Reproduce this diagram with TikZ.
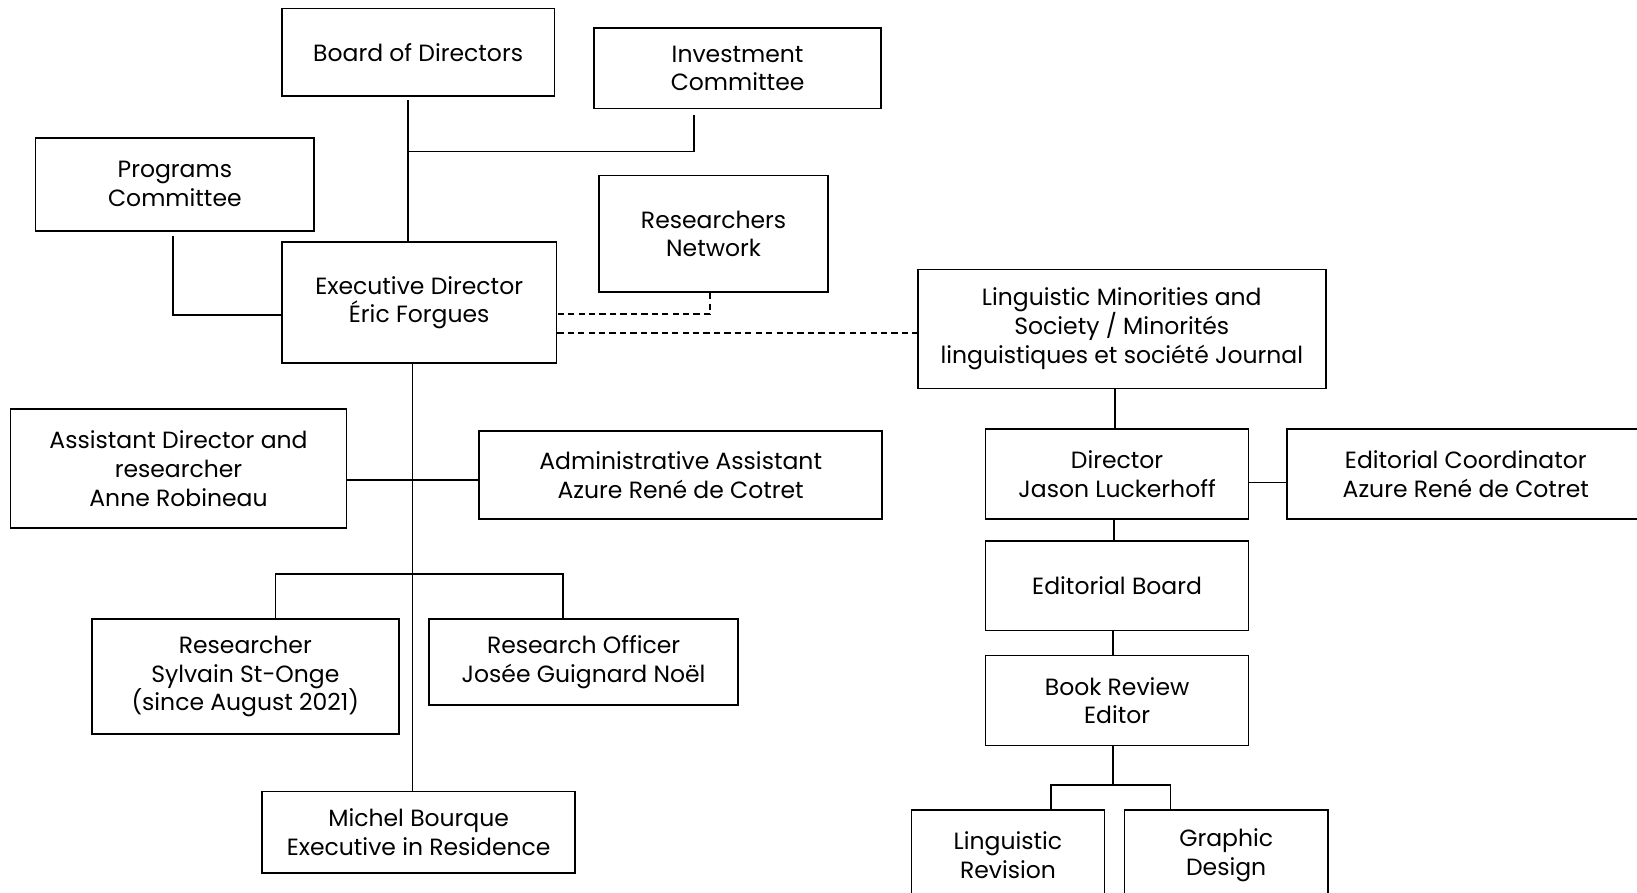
\documentclass[tikz,border=0pt]{standalone}
\usepackage{fontspec}
\setmainfont{Poppins}
\begin{document}
\begin{tikzpicture}[x=1pt,y=-1pt,
  box/.style={draw, line width=1.6pt, align=center, inner sep=0pt, font=\fontsize{22.5}{27.5}\selectfont},
  conn/.style={line width=1.6pt},
  dconn/.style={line width=1.6pt, dash pattern=on 6pt off 4pt}]
\useasboundingbox (0,0) rectangle (1568,855);
\clip (0,0) rectangle (1568,855);
\node[box, minimum width=261pt, minimum height=84pt] (bod) at (400.5,50) {Board of Directors};
\node[box, minimum width=275pt, minimum height=77pt] (inv) at (706.5,65.5) {Investment\\Committee};
\node[box, minimum width=267pt, minimum height=89pt] (prog) at (167.5,176.5) {Programs\\Committee};
\node[box, minimum width=219pt, minimum height=112pt] (rn) at (683.5,224) {Researchers\\Network};
\node[box, minimum width=263pt, minimum height=116pt] (exec) at (401.5,290) {Executive Director\\Éric Forgues};
\node[box, minimum width=391pt, minimum height=114pt] (lms) at (1074.5,315) {Linguistic Minorities and\\Society / Minorités\\linguistiques et société Journal};
\node[box, minimum width=322pt, minimum height=114pt] (ad) at (171,449) {Assistant Director and\\researcher\\Anne Robineau};
\node[box, minimum width=386pt, minimum height=84pt] (aa) at (652,455) {Administrative Assistant\\Azure René de Cotret};
\node[box, minimum width=252pt, minimum height=86pt] (dir) at (1070,454) {Director\\Jason Luckerhoff};
\node[box, minimum width=342pt, minimum height=86pt] (ec) at (1404,454) {Editorial Coordinator\\Azure René de Cotret};
\node[box, minimum width=252pt, minimum height=86pt] (eb) at (1070,561) {Editorial Board};
\node[box, minimum width=252pt, minimum height=86pt] (bre) at (1070,671) {Book Review\\Editor};
\node[box, minimum width=185pt, minimum height=86pt] (lr) at (965.5,819) {Linguistic\\Revision};
\node[box, minimum width=195pt, minimum height=86pt] (gd) at (1174.5,819) {Graphic\\Design};
\node[box, minimum width=294pt, minimum height=110pt] (rs) at (235,648) {Researcher\\Sylvain St-Onge\\(since August 2021)};
\node[box, minimum width=296pt, minimum height=82pt] (ro) at (559,634) {Research Officer\\Josée Guignard Noël};
\node[box, minimum width=300pt, minimum height=78pt] (mb) at (401,797) {Michel Bourque\\Executive in Residence};
% coordinates
\coordinate (bodb) at (391,96);
\coordinate (j1) at (391,145);
\coordinate (invb) at (665,110);
\coordinate (progb) at (166,226);
\coordinate (jr) at (264,550);
\coordinate (jl) at (539,550);
\coordinate (jb) at (1066,752);
% Board to Exec
\draw[conn] (bodb) -- (bodb |- exec.north);
\draw[conn] (invb) -- (invb |- j1) -- (j1);
\draw[conn] (progb) -- (166,302) -- (exec.west |- 0,302);
\draw[dconn] (rn.south -| 680,0) -- (680,301) -- (exec.east |- 0,301);
\draw[dconn] (exec.east |- 0,319) -- (lms.west |- 0,319);
% Exec down
\draw[conn] (exec.south -| 395,0) -- (mb.north -| 395,0);
\draw[conn] (ad.east |- 0,460) -- (aa.west |- 0,460);
\draw[conn] (rs.north -| jr) -- (jr) -- (jl) -- (ro.north -| jl);
% Journal
\draw[conn] (lms.south -| 1068,0) -- (dir.north -| 1068,0);
\draw[conn] (dir.east |- 0,462) -- (ec.west |- 0,462);
\draw[conn] (dir.south -| 1067,0) -- (eb.north -| 1067,0);
\draw[conn] (eb.south -| 1066,0) -- (bre.north -| 1066,0);
\draw[conn] (bre.south -| jb) -- (jb);
\draw[conn] (lr.north -| 1007,0) -- (1007,752) -- (1121,752) -- (gd.north -| 1121,0);
\end{tikzpicture}
\end{document}
